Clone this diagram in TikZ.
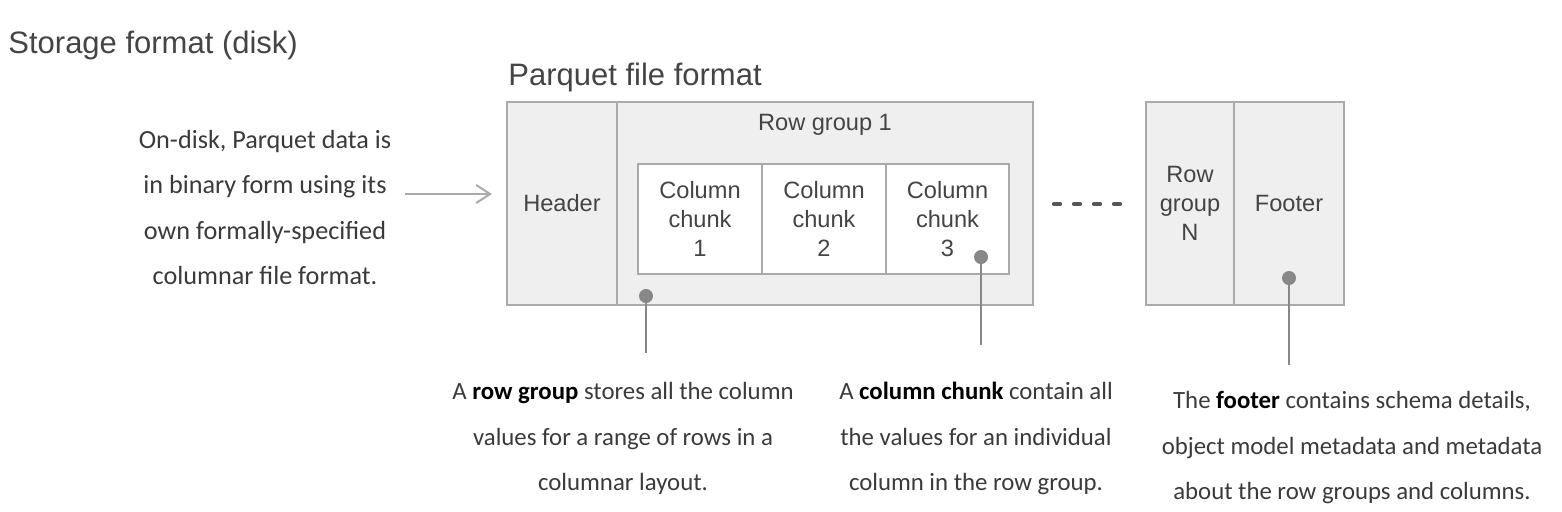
\documentclass[tikz,border=0pt]{standalone}
\usepackage{fontspec}
\setmainfont{Liberation Sans}
\newfontfamily\hand{Carlito}
\usetikzlibrary{arrows.meta}
\definecolor{boxfill}{HTML}{EFEFEF}
\definecolor{boxline}{HTML}{AAAAAA}
\definecolor{txt}{HTML}{444444}
\definecolor{dotc}{HTML}{888888}
\definecolor{handc}{HTML}{3A3A3A}
\tikzset{
  part/.style={draw=boxline, fill=boxfill, line width=1.2pt, inner sep=0pt, text=txt, font=\fontsize{11.8}{14.5}\selectfont, align=center},
  chunk/.style={part, fill=white},
  title/.style={text=txt, font=\fontsize{15.5}{18}\selectfont, anchor=west, inner sep=0pt},
  note/.style={text=handc, font=\hand\fontsize{12.4}{22.8}\selectfont, align=center, inner sep=0pt},
  pin/.style={fill=dotc, draw=none, circle, minimum size=7pt, inner sep=0pt},
  leader/.style={draw=dotc, line width=1pt},
}
\begin{document}
\begin{tikzpicture}[x=0.5pt,y=-0.5pt]
\useasboundingbox (0,0) rectangle (1562,511);
% titles
\node[title] (storage) at (8,45) {Storage format (disk)};
\node[title] (parquet) at (508,77) {Parquet file format};
% main file box
\node[part, minimum width=55pt, minimum height=101.5pt] (header) at (562,203.5) {Header};
\node[part, minimum width=208pt, minimum height=101.5pt] (rg1) at (825,203.5) {};
\node[text=txt, font=\fontsize{11.8}{14.5}\selectfont, inner sep=0pt] (rg1lab) at (825,125) {Row group 1};
\node[chunk, minimum width=62pt, minimum height=55pt] (c1) at (700,219) {Column\\chunk\\1};
\node[chunk, minimum width=62pt, minimum height=55pt] (c2) at (824,219) {Column\\chunk\\2};
\node[chunk, minimum width=61.5pt, minimum height=55pt] (c3) at (947.5,219) {Column\\chunk\\3};
% ellipsis
\coordinate (dA) at (1054,204);
\coordinate (dB) at (1120,204);
\draw[draw=txt!90, line width=2.2pt, line cap=round, dash pattern=on 3pt off 7pt] (dA) -- (dB);
% right box
\node[part, minimum width=44pt, minimum height=101.5pt] (rgN) at (1190,203.5) {Row\\group\\N};
\node[part, minimum width=55pt, minimum height=101.5pt] (footer) at (1289,203.5) {Footer};
% pins and leaders
\node[pin] (p1) at (646,296) {};
\node[pin] (p2) at (981,257) {};
\node[pin] (p3) at (1289,278) {};
\coordinate (e1) at (646,353);
\coordinate (e2) at (981,345);
\coordinate (e3) at (1289,365);
\draw[leader] (p1.center) -- (e1);
\draw[leader] (p2.center) -- (e2);
\draw[leader] (p3.center) -- (e3);
% left annotation
\node[note, font=\hand\fontsize{13.1}{22.8}\selectfont] (ondisk) at (265,207.5) {On-disk, Parquet data is\\in binary form using its\\own formally-specified\\columnar file format.};
\coordinate (a0) at (405,194);
\coordinate (a1) at (492,194);
\draw[draw=boxline, line width=1pt, -{Straight Barb[length=7pt,width=9pt,line width=1pt]}] (a0) -- (a1);
% bottom annotations
\node[note] (nrg) at (623,438.5) {A \textbf{\color{black}row group} stores all the column\\values for a range of rows in a\\columnar layout.};
\node[note] (ncc) at (976,438.5) {A \textbf{\color{black}column chunk} contain all\\the values for an individual\\column in the row group.};
\node[note] (nft) at (1352,447.5) {The \textbf{\color{black}footer} contains schema details,\\object model metadata and metadata\\about the row groups and columns.};
\end{tikzpicture}
\end{document}
